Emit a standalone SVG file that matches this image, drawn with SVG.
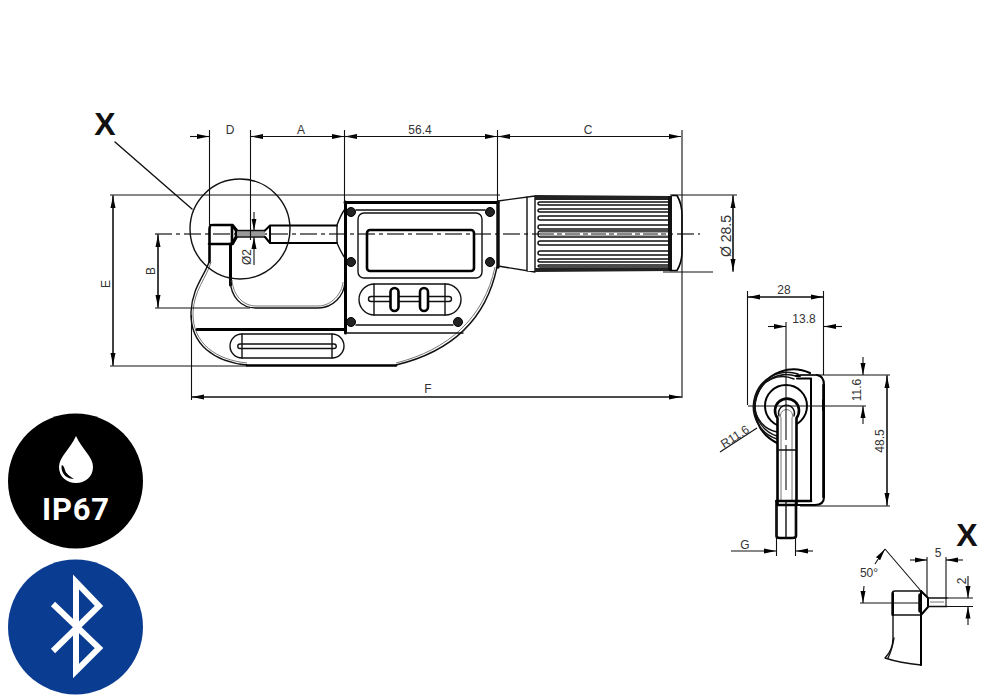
<svg xmlns="http://www.w3.org/2000/svg" width="1000" height="700" viewBox="0 0 1000 700">
<style>
text{font-family:"Liberation Sans",Arial,sans-serif;font-size:12px;fill:#333}
.big{font-weight:700;font-size:32px;fill:#111}
.m{text-anchor:middle}
.d{fill:none;stroke:#111;stroke-width:1.1}
.a{marker-end:url(#arr)}
.o{fill:none;stroke:#111;stroke-width:1.4;stroke-linejoin:round;stroke-linecap:round}
.t{fill:none;stroke:#000;stroke-width:2.6;stroke-linejoin:round;stroke-linecap:round}
.g{fill:none;stroke:#777;stroke-width:1}
.c{fill:none;stroke:#444;stroke-width:1.3;stroke-dasharray:17 4 4 4}
.s{fill:#222;stroke:#000;stroke-width:1}
.w{fill:#fff}
</style>
<defs>
<marker id="arr" markerUnits="userSpaceOnUse" markerWidth="13" markerHeight="7" refX="12" refY="3.500" orient="auto"><path d="M0 1L12 3.500L0 6Z" fill="#000"/></marker>
</defs>
<rect width="1000" height="700" fill="#fff"/>

<g id="main-view">
<path class="c" d="M155 234H700"/>
<path class="t" d="M213 225H232V244H209M211 225Q209.500 226 209.500 229V262"/>
<path class="t" d="M232.500 225.500L236.500 230.500V236.500L232.500 243.500" style="stroke-width:3.400"/>
<path fill="#999" d="M237 231H265V236.500H237Z"/>
<path class="o" d="M237 230.500H265M237 237H265"/>
<path class="t" d="M230.500 244V285" style="stroke-width:3"/>
<path class="t" d="M265 230.500L270 225.500H337M265 237L270 243H337M270 225.500V243" style="stroke-width:2"/>
<path class="o" d="M337 225C340 217 342 213 345 209M337 243C340 250 342 254 345 258M337 225V243"/>
<path class="o" d="M209 262C205 275 192 288 191 312C190 345 215 362 247 365"/>
<path class="g" d="M211 262C207 277 194 290 193 312C192 344 217 360 247 363"/>
<path class="o" d="M230 280C231 297 241 308 256 308H318C333 308 344 296 345 282"/>
<path class="g" d="M232 280C233 295 243 306 256 306H318C331 306 342 294 343 282"/>
<path class="t" d="M247 365.500H396"/>
<path class="o" d="M396 365C450 352 486 320 497 267"/>
<path class="g" d="M396 363C448 350 484 318 495 267"/>
<path class="t" d="M197 329.500H345M345.500 202V333M345 202.500H498" style="stroke-width:3"/>
<path class="t" d="M498 202V267" style="stroke-width:3.400"/>
<path class="o" d="M345 333H463M356 210H485M356 325H453"/>
<rect class="o" x="358" y="213" width="124" height="65" rx="6"/>
<rect class="t" x="367" y="230" width="107" height="41" rx="3"/>
<rect class="o" x="359" y="284" width="102" height="31" rx="15.500"/>
<path class="o" d="M374 284V315M445 284V315M371 296.500H449M371 301.500H449M371 296.500A2.500 2.500 0 0 0 371 301.500M449 296.500A2.500 2.500 0 0 1 449 301.500"/>
<rect class="t w" x="390.500" y="288" width="8" height="23" rx="4"/>
<rect class="t w" x="420" y="288" width="8" height="23" rx="4"/>
<rect class="o" x="230" y="334" width="114" height="24" rx="12"/>
<path class="o" d="M242 334V358M332 334V358M240 344H334M240 348.500H334M240 344A2.200 2.200 0 0 0 240 348.500M334 344A2.200 2.200 0 0 1 334 348.500"/>
<circle class="s" cx="351" cy="212" r="4.500"/>
<circle class="s" cx="490" cy="212" r="4.500"/>
<circle class="s" cx="351" cy="262" r="4.500"/>
<circle class="s" cx="490" cy="262" r="4.500"/>
<circle class="s" cx="351" cy="322" r="4.500"/>
<circle class="s" cx="458" cy="322" r="4.500"/>
<path class="o" d="M498 201L535 196V272L498 266ZM527 197V271"/>
<path fill="#222" d="M535 195L671 196V200H535ZM535 268H671V271L535 272Z"/>
<path fill="#111" d="M668 196H672V270H668Z"/>
<path class="t" d="M672 195.500H677Q682 204 682 215V252Q682 262 677 270.500H670" style="stroke-width:1.600"/>
<path class="o" d="M668 202H540Q538 202 538 203.500Q538 205 540 205H668M668 209H540Q538 209 538 210.500Q538 212 540 212H668M668 216H540Q538 216 538 218Q538 220 540 220H668M668 225H540Q538 225 538 227Q538 229 540 229H668M668 231H540Q538 231 538 234Q538 237 540 237H668M668 241H540Q538 241 538 243Q538 245 540 245H668M668 251H540Q538 251 538 253Q538 255 540 255H668M668 259H540Q538 259 538 260.500Q538 262 540 262H668M668 265H540Q538 265 538 266Q538 267 540 267H668"/>
<path stroke="#888" stroke-width="3.500" d="M540 234H668"/>
<path stroke="#fff" stroke-width="1.800" stroke-dasharray="3 5 3 15" d="M554 234H668"/>
</g>

<g id="detail-circle">
<circle class="o" cx="240" cy="229" r="50"/>
<path class="o" d="M115 142L192 209"/>
<text class="big m" x="105" y="135">X</text>
</g>

<g id="side-view">
<path class="t" d="M810 373A38 38 0 1 0 777 443" style="stroke-width:2"/>
<path class="o" d="M798 374A34 34 0 1 0 777 439"/>
<path class="o" d="M796 376A31 31 0 1 0 777 436"/>
<path class="o" d="M794 379A28 28 0 1 0 777 432"/>
<circle class="t" cx="786" cy="406" r="21" style="stroke-width:2"/>
<path class="o" d="M797 375H817"/>
<path class="t" d="M796 376H800M797 378.500H811V500M817 375Q824 376 824 385V497Q824 505 815 505H796M823 400V410" style="stroke-width:2"/>
<path class="t" d="M823.500 385V497M823.500 400V410"/>
<path class="t w" d="M777.500 505V418A12 12 0 1 1 796.500 418V505Z"/>
<path class="o" d="M779 416A8 8 0 1 1 794 416"/>
<path class="g" d="M781 418A6 6 0 1 1 792 418V500M781 418V500"/>
<path class="o" d="M778 450H796"/>
<path class="t" d="M776.500 501H811"/>
<path class="t" d="M776.500 501V536Q776.500 538 780 538H792Q796 538 796 536V501"/>
<path class="o" d="M786 501V538"/>
</g>

<g id="detail-x">
<path class="o" d="M892 594Q892 591 895 591H921V615H892ZM893 594V638Q893 650 885 658Q900 663 921 665V615"/>
<path class="o" d="M894 638Q892 650 888 658"/>
<path class="t" d="M893 593V615M921 591V665" style="stroke-width:2"/>
<path class="t" d="M921 591L928 598V607L921 615" style="stroke-width:2"/>
<path class="t" d="M920 595V611" style="stroke-width:3.500"/>
<path class="o" d="M928 598H947M928 606.500H947"/>
<path class="g" d="M930 602H944"/>
<text class="big m" x="967" y="546">X</text>
</g>

<g id="connectors">
<path class="d" d="M209.500 130V225M250.500 130V240M344.500 130V203M497.500 130V202M682 130V398"/>
<path class="d a" d="M190 136.500H209"/><path class="d a" d="M263 136.500H251"/>
<path class="d a" d="M251 136.500H344"/><path class="d a" d="M357 136.500H345"/>
<path class="d a" d="M345 136.500H497"/>
<path class="d a" d="M511 136.500H498"/><path class="d a" d="M498 136.500H681"/>
<path class="d" d="M110 195H500M670 195H737M663 272H713M155 308H250M110 366H247"/>
<path class="d a" d="M113 366V196"/><path class="d a" d="M113 195V365"/>
<path class="d a" d="M158 308V235"/><path class="d a" d="M158 234V307"/>
<path class="d a" d="M254 212V230.500"/><path class="d a" d="M254 265V237"/>
<path class="d a" d="M733 272V196"/><path class="d a" d="M733 195V271"/>
<path class="d" d="M191.500 315V400"/>
<path class="d a" d="M682 397H192"/><path class="d a" d="M192 397H681"/>
<path class="d" d="M747.500 291V405M823.500 291V375M786 322V440M786 445V490M748 406H866M800 375H890M800 506H890M776.500 505V556M795.500 505V556"/>
<path class="d a" d="M823 297H748"/><path class="d a" d="M748 297H823"/>
<path class="d a" d="M768 326.500H786"/><path class="d a" d="M842 326.500H824"/>
<path class="d a" d="M863 357V375"/><path class="d a" d="M863 424V406"/>
<path class="d a" d="M887 506V376"/><path class="d a" d="M887 375V505"/>
<path class="d a" d="M731 551H776"/><path class="d a" d="M813 551H796"/>
<path class="d" d="M720 452L757 428"/>
<path class="d a" d="M910 560H927"/><path class="d a" d="M963 560H946"/>
<path class="d" d="M927 557V597M946 557V606M946 598H973M946 606.500H973M860 603H921M885 549L921 591"/>
<path class="d a" d="M968 576V598"/><path class="d a" d="M968 625V606.500"/>
<path class="d a" d="M864 586Q863 594 863 603"/><path class="d a" d="M875 564Q880 556 885 549"/>
</g>

<g id="labels">
<text class="m" x="230" y="134">D</text>
<text class="m" x="301" y="134">A</text>
<text class="m" x="420" y="134">56.4</text>
<text class="m" x="588" y="134">C</text>
<text class="m" x="428" y="393">F</text>
<text class="m" transform="translate(110 284) rotate(-90)">E</text>
<text class="m" transform="translate(155 271) rotate(-90)">B</text>
<text class="m" transform="translate(251 257) rotate(-90)">Ø2</text>
<text class="m" transform="translate(731 236) rotate(-90)" style="font-size:14px">Ø 28.5</text>
<text class="m" x="784" y="294">28</text>
<text class="m" x="804" y="323">13.8</text>
<text class="m" transform="translate(861 390) rotate(-90)">11.6</text>
<text class="m" transform="translate(884 441) rotate(-90)">48.5</text>
<text class="m" transform="translate(737 440) rotate(-33)">R11.6</text>
<text class="m" x="745" y="549">G</text>
<text class="m" x="869" y="577">50°</text>
<text class="m" x="938" y="557">5</text>
<text class="m" transform="translate(966 581) rotate(-90)">2</text>
</g>

<g id="ip67">
<circle cx="75.500" cy="481" r="67.500" fill="#000"/>
<path fill="#fff" d="M76 436C70 449 59 457 59 467C59 477 67 483 76 483C85 483 93 477 93 467C93 457 82 449 76 436Z"/>
<path fill="#000" d="M61.500 466C61 475 68 479 74 479C70 476 66 474 65 470C64 466 62 464 61.500 466Z"/>
<text class="m" x="76" y="520" style="font-family:Roboto,sans-serif;font-weight:700;font-size:31px;letter-spacing:.8px;fill:#fff">IP67</text>
</g>
<g id="bluetooth">
<circle cx="75.500" cy="627" r="67.500" fill="#0a3d91"/>
<path fill="none" stroke="#fff" stroke-width="6" d="M53 604L99 648L76 671V582L99 606L53 651"/>
</g>
</svg>
